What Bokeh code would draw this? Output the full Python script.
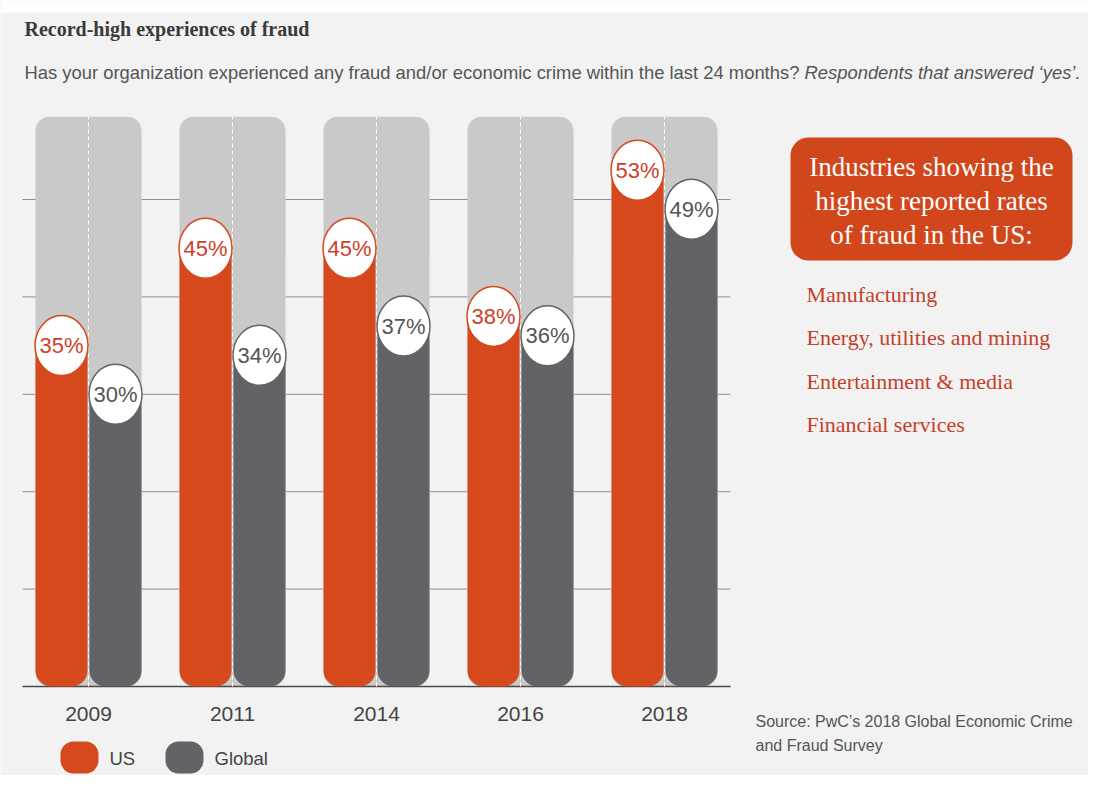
from bokeh.plotting import figure
from bokeh.models import Range1d
from bokeh.core.properties import value
from bokeh.embed import file_html
from bokeh.resources import INLINE

# ---- data ----
years = ["2009", "2011", "2014", "2016", "2018"]
us_vals = [35, 45, 45, 38, 53]
global_vals = [30, 34, 37, 36, 49]
grid_vals = [10, 20, 30, 40, 50]
bg_top = 58.5
industries = ["Manufacturing", "Energy, utilities and mining",
              "Entertainment & media", "Financial services"]
box_lines = ["Industries showing the", "highest reported rates", "of fraud in the US:"]
title = "Record-high experiences of fraud"
subtitle = "Has your organization experienced any fraud and/or economic crime within the last 24 months? "
subtitle_it = "Respondents that answered \u2018yes\u2019."
source_lines = ["Source: PwC\u2019s 2018 Global Economic Crime", "and Fraud Survey"]

# ---- style / layout ----
US_C = "#d6491d"
GL_C = "#626367"
BG_C = "#c9c9c9"
PAGE = "#f2f2f2"
PX = 9.74          # pixels per percentage point
BASE = 686         # pixel row of 0%
W, H = 1088, 775

def Y(py):  # pixel row -> data y
    return (BASE - py) / PX

p = figure(width=W, height=H, x_range=Range1d(0, W), y_range=Range1d(Y(H), Y(0)),
           min_border=0, toolbar_location=None, output_backend="svg",
           x_axis_location=None, y_axis_location=None)
p.grid.visible = False
p.outline_line_color = None
p.background_fill_color = PAGE
p.border_fill_color = PAGE

SANS = "Liberation Sans"
SERIF = "Liberation Serif"

centers = [88 + 144 * i for i in range(len(years))]
us_x = [c - 27 for c in centers]
gl_x = [c + 27 for c in centers]

# white strip on top
p.quad(left=0, right=W, top=Y(0), bottom=Y(12), fill_color="white", line_color=None)

# gridlines
p.segment(x0=[22] * len(grid_vals), x1=[730] * len(grid_vals), y0=grid_vals, y1=grid_vals,
          line_color="#8f8f8f", line_width=1)

# background bars
p.quad(left=[c - 53 for c in centers], right=[c + 53 for c in centers], top=bg_top, bottom=0,
       fill_color=BG_C, line_color=None, border_radius=14)

# baseline
p.segment(x0=[22], x1=[730], y0=[0], y1=[0], line_color="#4a4a4a", line_width=1.5)

# bars
p.quad(left=[x - 26 for x in us_x], right=[x + 26 for x in us_x], top=us_vals, bottom=0,
       fill_color=US_C, line_color=None, border_radius=(0, 0, 16, 16))
p.quad(left=[x - 26 for x in gl_x], right=[x + 26 for x in gl_x], top=global_vals, bottom=0,
       fill_color=GL_C, line_color=None, border_radius=(0, 0, 16, 16))

# dashed divider
p.segment(x0=centers, x1=centers, y0=[0] * len(centers), y1=[bg_top] * len(centers),
          line_color="white", line_width=1, line_dash="4 3")

# value bubbles
p.ellipse(x=us_x, y=us_vals, width=53, height=60 / PX, fill_color="white",
          line_color=US_C, line_width=1.5)
p.ellipse(x=gl_x, y=global_vals, width=53, height=60 / PX, fill_color="white",
          line_color=GL_C, line_width=1.5)
p.text(x=us_x, y=us_vals, text=[f"{v}%" for v in us_vals], text_align="center",
       text_baseline="middle", text_font=value(SANS), text_font_size="22px", text_color="#cf3f2a")
p.text(x=gl_x, y=global_vals, text=[f"{v}%" for v in global_vals], text_align="center",
       text_baseline="middle", text_font=value(SANS), text_font_size="22px", text_color="#555558")

# year labels
p.text(x=centers, y=[Y(713)] * len(years), text=years, text_align="center",
       text_baseline="middle", text_font=value(SANS), text_font_size="21px", text_color="#444444")

# legend
p.quad(left=[60, 165], right=[98, 203], top=[Y(741)] * 2, bottom=[Y(773)] * 2,
       fill_color=[US_C, GL_C], line_color=None, border_radius=13)
p.text(x=[109, 214], y=[Y(758)] * 2, text=["US", "Global"], text_align="left",
       text_baseline="middle", text_font=value(SANS), text_font_size="18.5px", text_color="#444444")

# titles
p.text(x=[24], y=[Y(28)], text=[title], text_align="left", text_baseline="middle",
       text_font=value(SERIF), text_font_size="20px", text_color="#3a3a3a", text_font_style="bold")
p.text(x=[24], y=[Y(72)], text=[subtitle], text_align="left", text_baseline="middle",
       text_font=value(SANS), text_font_size="18.4px", text_color="#555555")
p.text(x=[804], y=[Y(72)], text=[subtitle_it], text_align="left", text_baseline="middle",
       text_font=value(SANS), text_font_size="18.4px", text_color="#555555", text_font_style="italic")

# right box
p.quad(left=[790], right=[1072], top=[Y(137)], bottom=[Y(260)], fill_color="#d2461c",
       line_color=None, border_radius=18)
p.text(x=[931] * 3, y=[Y(166), Y(200), Y(234)], text=box_lines, text_align="center",
       text_baseline="middle", text_font=value(SERIF), text_font_size="27px", text_color="white")
p.text(x=[806] * 4, y=[Y(294), Y(337), Y(381), Y(424)], text=industries, text_align="left",
       text_baseline="middle", text_font=value(SERIF), text_font_size="22px", text_color="#c63f28")

# source
p.text(x=[755] * 2, y=[Y(721), Y(745)], text=source_lines, text_align="left",
       text_baseline="middle", text_font=value(SANS), text_font_size="16px", text_color="#555555")

open("out.html", "w").write(file_html(p, INLINE))
